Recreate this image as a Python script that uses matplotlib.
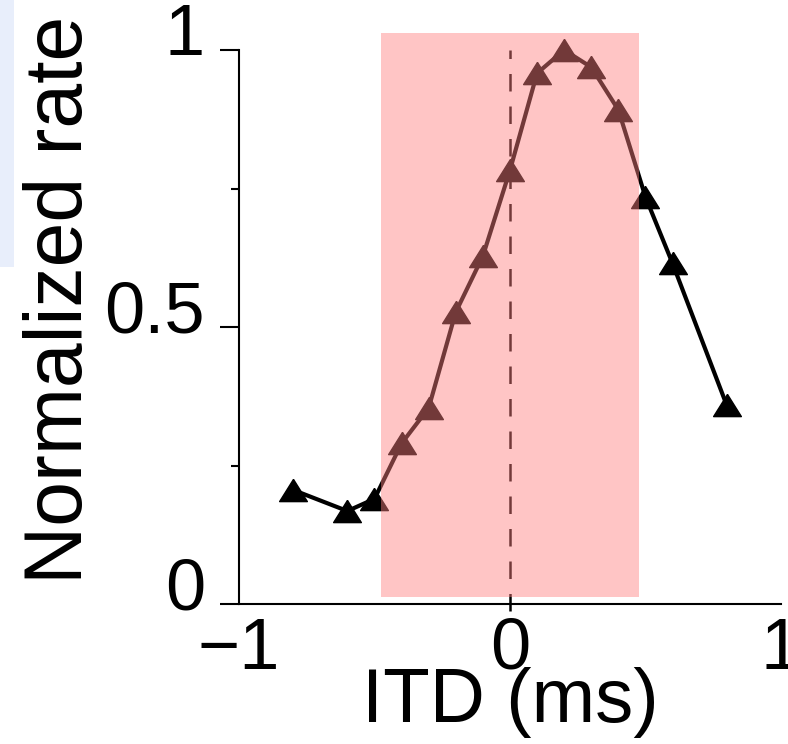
import numpy as np
import matplotlib
matplotlib.use('Agg')
import matplotlib.pyplot as plt
from matplotlib.patches import Rectangle
from matplotlib.transforms import ScaledTranslation

plt.rcParams['font.family'] = ['Liberation Sans', 'DejaVu Sans']

itd = [-0.8, -0.6, -0.5, -0.4, -0.3, -0.2, -0.1, 0.0, 0.1, 0.2, 0.3, 0.4, 0.5, 0.6, 0.8]
rate = [0.206, 0.168, 0.19, 0.29, 0.354, 0.527, 0.628, 0.783, 0.958, 1.0,
        0.969, 0.892, 0.735, 0.615, 0.359]

shade_x = (-0.475, 0.475)
shade_y = (0.012, 1.03)

x_ticks = [-1, 0, 1]
x_labels = ['\u22121', '0', '1']
y_major = [0, 0.5, 1]
y_labels = ['0', '0.5', '1']
y_minor = [0.25, 0.75]

fig = plt.figure(figsize=(7.88, 7.44), dpi=100)
fig.patches.append(Rectangle((0, 1 - 267 / 744), 14 / 788, 267 / 744,
                             transform=fig.transFigure, facecolor='#e8eefb',
                             edgecolor='none', zorder=0))
ax = fig.add_axes([0.3033, 0.188, 0.6877, 0.782])

# flattened triangle marker
tri = [(0, 0.8), (-1, -0.8), (1, -0.8), (0, 0.8)]
ax.plot(itd, rate, color='black', lw=3, marker=tri, markersize=20,
        markerfacecolor='black', markeredgecolor='black', zorder=2)

ax.plot([0, 0], [-0.012, 1.0], color='black', lw=1.8, dashes=(7, 6),
        clip_on=False, zorder=3)

ax.add_patch(Rectangle((shade_x[0], shade_y[0]), shade_x[1] - shade_x[0],
                       shade_y[1] - shade_y[0], facecolor=(1, 0.5, 0.5),
                       alpha=0.45, edgecolor='none', zorder=4))

ax.set_xlim(-1, 1)
ax.set_ylim(0, 1.05)
ax.spines['top'].set_visible(False)
ax.spines['right'].set_visible(False)
ax.spines['left'].set_bounds(0, 1)
ax.spines['left'].set_linewidth(1.5)
ax.spines['bottom'].set_linewidth(1.5)

ax.set_xticks(x_ticks)
ax.set_xticklabels(x_labels, fontsize=52)
ax.tick_params(axis='x', length=0, pad=9)
ax.set_yticks(y_major)
ax.set_yticklabels([])
ax.set_yticks(y_minor, minor=True)
ax.tick_params(axis='y', which='major', length=14, width=1.5)
ax.tick_params(axis='y', which='minor', length=6, width=1.5)

# y tick labels sit a little above their ticks in the original
ylab_tr = ax.get_yaxis_transform() + ScaledTranslation(-0.34, 0.21, fig.dpi_scale_trans)
for v, s in zip(y_major, y_labels):
    ax.text(0, v, s, transform=ylab_tr, fontsize=52, ha='right',
            va='center_baseline')

ax.set_xlabel('ITD (ms)', fontsize=55, labelpad=-12)
fig.text(61 / 788, 1 - 300 / 744, 'Normalized rate', rotation=90,
         fontsize=58, ha='center', va='center')

fig.savefig('out.png', dpi=100)
